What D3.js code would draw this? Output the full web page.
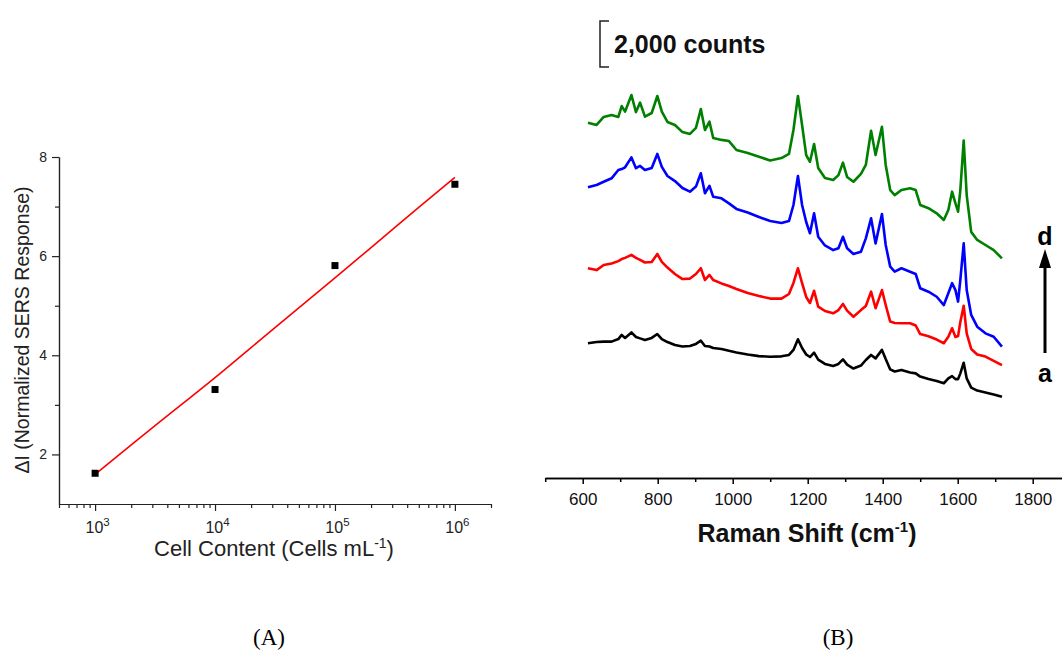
<!DOCTYPE html>
<html>
<head>
<meta charset="utf-8">
<script src="https://cdn.jsdelivr.net/npm/d3@7"></script>
<style>
  body { margin: 0; background: #fff; }
  svg { display: block; font-family: "Liberation Sans", Arial, sans-serif; }
  .axis-a path, .axis-a line { stroke: #222; stroke-width: 1.2; }
  .axis-b path, .axis-b line { stroke: #000; stroke-width: 1.5; }
</style>
</head>
<body>
<div id="chart"></div>
<script>
// Panel A: calibration of SERS response against cell content
const cellCounts = [1e3, 1e4, 1e5, 1e6];
const sersResponse = [1.62, 3.31, 5.81, 7.45];
const fitCounts = [1e3, 3162, 1e4, 31623, 1e5, 316228, 1e6];
const fitResponse = [1.6, 2.58, 3.55, 4.56, 5.56, 6.58, 7.59];
const yTicksA = [2, 4, 6, 8];
const yMinorA = [3, 5, 7];
const xTicksA = [1e3, 1e4, 1e5, 1e6];
const xTickExpA = ["3", "4", "5", "6"];

// Panel B: stacked Raman spectra (intensity in thousands of counts, offsets included)
const ramanShift = [614, 637, 656, 677, 695, 704, 713, 730, 742, 753, 766, 784, 799, 811, 826, 846, 866, 886, 902, 915,
  926, 938, 948, 970, 990, 1010, 1040, 1070, 1100, 1130, 1150, 1162, 1174, 1185, 1196, 1206, 1217, 1228, 1246, 1268,
  1282, 1294, 1305, 1322, 1342, 1355, 1369, 1381, 1398, 1408, 1420, 1432, 1450, 1473, 1488, 1500, 1522, 1544, 1563, 1575,
  1585, 1594, 1601, 1607, 1616, 1624, 1636, 1652, 1674, 1696, 1718];

const spectrumA = [5.86, 5.91, 5.93, 5.93, 6.04, 6.22, 6.09, 6.33, 6.13, 6.07, 6.00, 6.09, 6.26, 6.04, 5.91, 5.78, 5.72, 5.74, 5.83, 5.97,
  5.74, 5.72, 5.65, 5.61, 5.53, 5.46, 5.37, 5.30, 5.27, 5.29, 5.35, 5.57, 6.03, 5.65, 5.37, 5.26, 5.45, 5.15, 4.96, 4.87,
  4.96, 5.16, 4.93, 4.76, 4.89, 5.13, 5.35, 5.20, 5.57, 5.17, 4.72, 4.63, 4.70, 4.59, 4.55, 4.41, 4.30, 4.22, 4.12, 4.33,
  4.43, 4.30, 4.30, 4.55, 5.01, 4.33, 3.93, 3.80, 3.72, 3.63, 3.53];

const spectrumB = [9.12, 9.04, 9.26, 9.33, 9.43, 9.52, 9.57, 9.70, 9.57, 9.48, 9.37, 9.39, 9.74, 9.40, 9.15, 8.87, 8.65, 8.67, 8.87, 9.12,
  8.61, 8.83, 8.61, 8.46, 8.35, 8.22, 8.04, 7.91, 7.80, 7.80, 8.00, 8.48, 9.12, 8.47, 7.87, 7.61, 8.14, 7.45, 7.26, 7.16,
  7.30, 7.57, 7.28, 7.01, 7.30, 7.48, 8.10, 7.38, 8.17, 7.52, 6.80, 6.74, 6.73, 6.73, 6.63, 6.26, 6.16, 6.02, 5.86, 6.14,
  6.51, 6.13, 6.17, 6.78, 7.49, 6.29, 5.61, 5.37, 5.28, 5.09, 4.91];

const spectrumC = [12.64, 12.74, 12.88, 13.03, 13.39, 13.43, 13.51, 13.94, 13.47, 13.57, 13.39, 13.48, 14.09, 13.53, 13.13, 12.91, 12.61, 12.45, 12.67, 13.25,
  12.38, 12.70, 12.23, 12.16, 11.94, 11.70, 11.54, 11.35, 11.17, 11.09, 11.17, 11.87, 13.13, 11.87, 11.13, 10.64, 11.51, 10.49, 10.11, 9.91,
  9.99, 10.49, 9.99, 9.74, 9.84, 10.42, 11.29, 10.20, 11.48, 10.13, 9.19, 8.97, 9.12, 8.97, 8.87, 8.25, 8.10, 7.88, 7.52, 8.03,
  8.47, 8.17, 7.67, 8.61, 10.20, 8.17, 7.09, 6.58, 6.29, 6.14, 5.71];

const spectrumD = [15.45, 15.35, 15.70, 15.78, 15.70, 16.17, 15.93, 16.65, 15.91, 16.32, 15.71, 15.87, 16.61, 15.93, 15.48, 15.35, 15.04, 14.96, 15.22, 16.04,
  15.13, 15.49, 14.78, 14.70, 14.65, 14.26, 14.13, 13.97, 13.80, 13.91, 14.09, 15.13, 16.61, 15.35, 14.04, 13.75, 14.52, 13.48, 13.04, 12.96,
  13.17, 13.71, 13.09, 12.88, 13.22, 13.61, 15.10, 14.04, 15.27, 13.61, 12.52, 12.30, 12.52, 12.60, 12.52, 11.87, 11.73, 11.51, 11.22, 11.65,
  12.45, 11.94, 11.58, 12.52, 14.67, 12.30, 10.70, 10.35, 10.13, 9.91, 9.55];

const xTicksB = [600, 800, 1000, 1200, 1400, 1600, 1800];
const xMinorB = [500, 700, 900, 1100, 1300, 1500, 1700, 1900];

const width = 1062;
const height = 650;

const svg = d3.select("#chart")
  .append("svg")
  .attr("width", width)
  .attr("height", height);

svg.append("rect").attr("width", width).attr("height", height).attr("fill", "#fff");

// ---------- Panel A ----------
const xA = d3.scaleLog().domain([500, 2e6]).range([59, 491]);
const yA = d3.scaleLinear().domain([1, 8]).range([504, 157]);

const minorLogTicks = [];
for (let dec = 100; dec <= 1e6; dec *= 10) {
  for (let m = 2; m <= 9; m++) {
    const v = dec * m;
    if (v >= 500 && v <= 2e6) minorLogTicks.push(v);
  }
}

const panelA = svg.append("g");

panelA.append("g")
  .attr("class", "axis-a")
  .attr("transform", "translate(0,504)")
  .call(d3.axisBottom(xA).tickValues(minorLogTicks).tickSize(4).tickSizeOuter(0).tickFormat(""));

const xAxisA = panelA.append("g")
  .attr("class", "axis-a")
  .attr("transform", "translate(0,504)")
  .call(d3.axisBottom(xA).tickValues(xTicksA).tickSize(7).tickSizeOuter(0).tickPadding(11).tickFormat(""));

xAxisA.selectAll(".tick text")
  .style("font-size", "16px")
  .style("font-family", "Liberation Sans, Arial, sans-serif")
  .attr("fill", "#222")
  .attr("dx", "2px")
  .each(function (d, i) {
    const t = d3.select(this);
    t.append("tspan").text("10");
    t.append("tspan").style("font-size", "11.5px").attr("dy", "-0.6em").text(xTickExpA[i]);
  });

panelA.append("g")
  .attr("class", "axis-a")
  .attr("transform", "translate(59,0)")
  .call(d3.axisLeft(yA).tickValues(yMinorA).tickSize(4).tickSizeOuter(0).tickFormat(""));

panelA.append("g")
  .attr("class", "axis-a")
  .attr("transform", "translate(59,0)")
  .call(d3.axisLeft(yA).tickValues(yTicksA).tickSize(7).tickSizeOuter(0).tickPadding(5).tickFormat(d3.format("d")))
  .selectAll(".tick text")
  .style("font-size", "14px")
  .style("font-family", "Liberation Sans, Arial, sans-serif")
  .attr("fill", "#222");

const fitLine = d3.line()
  .x(d => xA(d[0]))
  .y(d => yA(d[1]))
  .curve(d3.curveCatmullRom);

panelA.append("path")
  .datum(fitCounts.map((c, i) => [c, fitResponse[i]]))
  .attr("fill", "none")
  .attr("stroke", "#f00")
  .attr("stroke-width", 1.6)
  .attr("d", fitLine);

panelA.selectAll(".pt")
  .data(cellCounts.map((c, i) => [c, sersResponse[i]]))
  .join("rect")
  .attr("class", "pt")
  .attr("x", d => xA(d[0]) - 3.5)
  .attr("y", d => yA(d[1]) - 3.5)
  .attr("width", 7)
  .attr("height", 7)
  .attr("fill", "#000");

panelA.append("text")
  .attr("transform", "translate(29,330) rotate(-90)")
  .attr("text-anchor", "middle")
  .style("font-size", "19.5px")
  .attr("fill", "#222")
  .text("ΔI (Normalized SERS Response)");

const xTitleA = panelA.append("text")
  .attr("x", 274)
  .attr("y", 556)
  .attr("text-anchor", "middle")
  .style("font-size", "22px")
  .attr("fill", "#222");
xTitleA.append("tspan").text("Cell Content (Cells mL");
xTitleA.append("tspan").style("font-size", "14px").attr("dy", "-0.6em").text("-1");
xTitleA.append("tspan").attr("dy", "0.38em").text(")");

// ---------- Panel B ----------
const xB = d3.scaleLinear().domain([500, 1900]).range([545.2, 1070.2]);
const yB = d3.scaleLinear().domain([0, 20]).range([478, 18]);

const panelB = svg.append("g");

panelB.append("g")
  .attr("class", "axis-b")
  .attr("transform", "translate(0,478)")
  .call(d3.axisBottom(xB).tickValues(xMinorB).tickSize(4).tickSizeOuter(0).tickFormat(""));

panelB.append("g")
  .attr("class", "axis-b")
  .attr("transform", "translate(0,478)")
  .call(d3.axisBottom(xB).tickValues(xTicksB).tickSize(6).tickSizeOuter(0).tickPadding(9).tickFormat(d3.format("d")))
  .selectAll(".tick text")
  .style("font-size", "17px")
  .style("font-family", "Liberation Sans, Arial, sans-serif")
  .attr("fill", "#111");

const spectra = [
  { name: "a", values: spectrumA, color: "#000000" },
  { name: "b", values: spectrumB, color: "#ff0000" },
  { name: "c", values: spectrumC, color: "#0000ff" },
  { name: "d", values: spectrumD, color: "#008000" }
];

const specLine = d3.line()
  .x(d => xB(d[0]))
  .y(d => yB(d[1]));

spectra.forEach(s => {
  panelB.append("path")
    .datum(ramanShift.map((r, i) => [r, s.values[i]]))
    .attr("fill", "none")
    .attr("stroke", s.color)
    .attr("stroke-width", 2.6)
    .attr("stroke-linejoin", "round")
    .attr("d", specLine);
});

const xTitleB = panelB.append("text")
  .attr("x", 807)
  .attr("y", 542)
  .attr("text-anchor", "middle")
  .style("font-size", "25px")
  .attr("font-weight", "bold")
  .attr("fill", "#111");
xTitleB.append("tspan").text("Raman Shift (cm");
xTitleB.append("tspan").style("font-size", "15px").attr("dy", "-0.65em").text("-1");
xTitleB.append("tspan").attr("dy", "0.4em").text(")");

// scale bar: 2,000 counts
const barBottom = 67;
const barTop = barBottom - (yB(0) - yB(2));
panelB.append("path")
  .attr("d", `M609,${barTop} H600 V${barBottom} H609`)
  .attr("fill", "none")
  .attr("stroke", "#222")
  .attr("stroke-width", 1.5);

panelB.append("text")
  .attr("x", 614)
  .attr("y", 53)
  .style("font-size", "25px")
  .attr("font-weight", "bold")
  .attr("fill", "#111")
  .text("2,000 counts");

// arrow a -> d
panelB.append("line")
  .attr("x1", 1045).attr("x2", 1045)
  .attr("y1", 353).attr("y2", 266)
  .attr("stroke", "#000")
  .attr("stroke-width", 3);

panelB.append("path")
  .attr("d", "M1045,249 L1051,268 L1039,268 Z")
  .attr("fill", "#000");

panelB.append("text")
  .attr("x", 1045).attr("y", 245)
  .attr("text-anchor", "middle")
  .style("font-size", "25px")
  .attr("font-weight", "bold")
  .text("d");

panelB.append("text")
  .attr("x", 1045).attr("y", 382)
  .attr("text-anchor", "middle")
  .style("font-size", "25px")
  .attr("font-weight", "bold")
  .text("a");

// panel labels
svg.append("text")
  .attr("x", 269).attr("y", 645)
  .attr("text-anchor", "middle")
  .style("font-family", "Liberation Serif, Times New Roman, serif")
  .style("font-size", "23px")
  .text("(A)");

svg.append("text")
  .attr("x", 838).attr("y", 645)
  .attr("text-anchor", "middle")
  .style("font-family", "Liberation Serif, Times New Roman, serif")
  .style("font-size", "23px")
  .text("(B)");
</script>
</body>
</html>
